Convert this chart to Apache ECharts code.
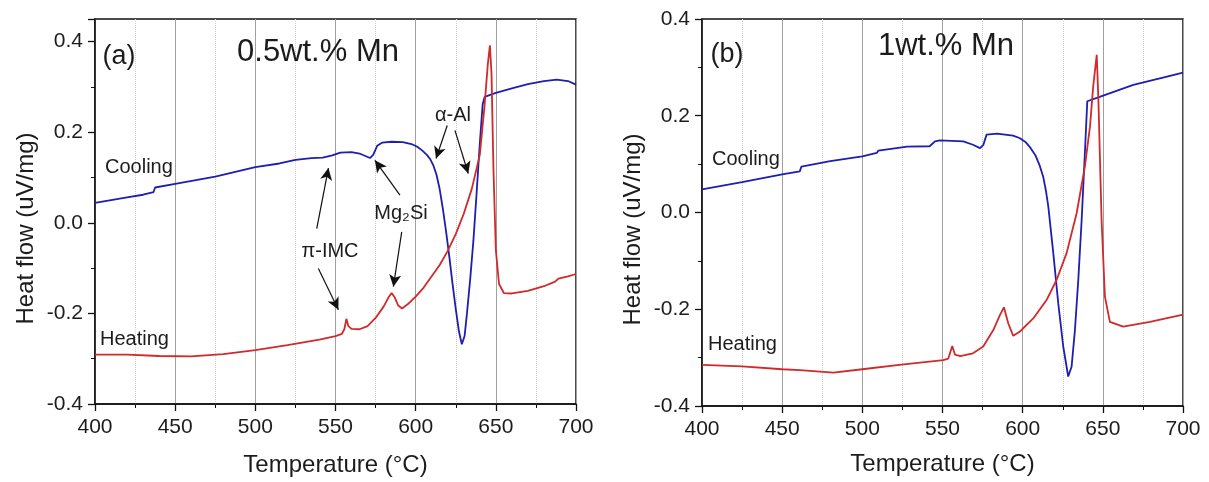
<!DOCTYPE html>
<html><head><meta charset="utf-8">
<script src="https://cdn.jsdelivr.net/npm/echarts@6/dist/echarts.min.js"></script>
<style>html,body{margin:0;padding:0;background:#fff}#c{width:1209px;height:482px}</style>
</head><body><div id="c"></div>
<script>
// ---------- DATA ----------
const xTickLabels = [400, 450, 500, 550, 600, 650, 700];

// Panel (a) 0.5wt.% Mn — cooling
const aCoolT = [400,410,420,430,436.5,437.5,450,475,500,515,525,535,542,548,553,560,565,569,571.5,573.5,576,579,585,592,598,601,604,607,609,611,613,615,617,619,621,623,625,627,628.8,630.5,632,634,636,638,640,641.8,643,650,660,670,680,688,695,700];
const aCoolV = [0.044,0.050,0.056,0.062,0.068,0.078,0.086,0.102,0.123,0.131,0.139,0.143,0.144,0.149,0.155,0.156,0.153,0.147,0.143,0.150,0.170,0.177,0.179,0.178,0.173,0.168,0.160,0.150,0.141,0.127,0.106,0.074,0.030,-0.020,-0.075,-0.135,-0.190,-0.240,-0.268,-0.250,-0.200,-0.125,-0.040,0.065,0.175,0.262,0.278,0.287,0.297,0.306,0.313,0.316,0.313,0.305];
// Panel (a) — heating
const aHeatT = [400,420,440,460,480,500,520,540,550,554,555.5,556.8,558,560,565,570,575,580,583,585,587,589,591.5,595,600,605,610,615,620,625,630,635,640,643,645,646.3,647.3,648.5,650,652,655,660,670,680,687,689,695,700];
const aHeatV = [-0.291,-0.291,-0.294,-0.295,-0.290,-0.281,-0.270,-0.258,-0.250,-0.245,-0.235,-0.212,-0.228,-0.234,-0.235,-0.228,-0.210,-0.185,-0.165,-0.155,-0.165,-0.182,-0.189,-0.180,-0.163,-0.143,-0.118,-0.093,-0.062,-0.025,0.020,0.075,0.150,0.260,0.350,0.392,0.330,0.120,-0.060,-0.135,-0.155,-0.156,-0.150,-0.140,-0.130,-0.123,-0.118,-0.113];

// Panel (b) 1wt.% Mn — cooling
const bCoolT = [400,425,450,461,462,480,500,509,510,528,542,545.3,548.4,563,569,573.4,575.5,577.5,584,594,598,602,605,608,610.5,612.8,614.5,616,619.1,622.2,625.3,628.4,630.5,632.6,634.7,636.8,638.8,640.3,648,669,690,700];
const bCoolV = [0.048,0.063,0.079,0.085,0.095,0.106,0.116,0.123,0.128,0.136,0.137,0.147,0.149,0.147,0.140,0.133,0.140,0.161,0.163,0.159,0.154,0.145,0.133,0.118,0.098,0.074,0.045,0.012,-0.084,-0.188,-0.277,-0.339,-0.319,-0.243,-0.139,-0.015,0.123,0.230,0.239,0.264,0.281,0.289];
// Panel (b) — heating
const bHeatT = [400,425,450,461,482,500,523,550.5,553.6,556.1,557.8,561,569,575.4,581.7,585.8,588.3,591,594.1,598.3,606.6,614.9,621.2,627.4,633.7,638.8,642,644,646.2,647.3,649.2,651.3,654.4,662.7,679.4,700];
const bHeatV = [-0.315,-0.318,-0.324,-0.326,-0.331,-0.324,-0.315,-0.305,-0.302,-0.276,-0.294,-0.297,-0.291,-0.277,-0.243,-0.212,-0.196,-0.229,-0.255,-0.246,-0.219,-0.181,-0.139,-0.084,-0.001,0.095,0.178,0.261,0.326,0.226,-0.015,-0.174,-0.226,-0.236,-0.226,-0.211];

// Annotation arrows in panel (a): [fromT, fromV, toT, toV]
const arrowsA = [
  [538.3, -0.013, 545.6, 0.121],
  [539.3, -0.101, 551.8, -0.192],
  [590.2, 0.061, 574.6, 0.138],
  [591.3, -0.020, 586.1, -0.141],
  [619.7, 0.215, 612.7, 0.142],
  [624.5, 0.204, 632.8, 0.109]
];

// ---------- CHART ----------
const FONT = 'Liberation Sans, Arial, sans-serif';
const TXT = '#1c1c1c';
const BLUE = '#1e1eb0';
const RED = '#d02a2a';
const zip = (a, b) => a.map((v, i) => [v, b[i]]);

function xAxis(gi, gap) {
  return {
    type: 'value', gridIndex: gi, min: 400, max: 700, interval: 50,
    name: 'Temperature (°C)', nameLocation: 'middle', nameGap: gap,
    nameTextStyle: { fontSize: 24, color: TXT, fontFamily: FONT },
    axisLine: { onZero: false, lineStyle: { color: '#111', width: 1.5 } },
    axisTick: { show: true, inside: false, length: 7, lineStyle: { color: '#111', width: 1.3 } },
    minorTick: { show: true, splitNumber: 2, length: 4, lineStyle: { color: '#111', width: 1 } },
    splitLine: { show: true, lineStyle: { color: '#a0a0a0', width: 1 } },
    minorSplitLine: { show: true, lineStyle: { color: '#d0d0d0', width: 1, type: 'dotted' } },
    axisLabel: { fontSize: 21, color: TXT, fontFamily: FONT, margin: 13,
      formatter: v => (xTickLabels.indexOf(v) >= 0 ? String(v) : '') }
  };
}
function yAxis(gi, max) {
  return {
    type: 'value', gridIndex: gi, min: -0.4, max: max, interval: 0.2,
    name: 'Heat flow (uV/mg)', nameLocation: 'middle', nameGap: 57,
    nameTextStyle: { fontSize: 24, color: TXT, fontFamily: FONT, padding: [0, 34, 0, 0] },
    axisLine: { onZero: false, lineStyle: { color: '#111', width: 1.5 } },
    axisTick: { show: true, inside: false, length: 7, lineStyle: { color: '#111', width: 1.3 } },
    minorTick: { show: true, splitNumber: 2, length: 4, lineStyle: { color: '#111', width: 1 } },
    splitLine: { show: false },
    axisLabel: { fontSize: 21, color: TXT, fontFamily: FONT, margin: 12, showMaxLabel: max === 0.4,
      formatter: v => (Math.abs(v - Math.round(v * 5) / 5) < 1e-6 ? v.toFixed(1) : '') }
  };
}

const chart = echarts.init(document.getElementById('c'), null, { renderer: 'canvas' });
const lineBase = { type: 'line', showSymbol: false, symbol: 'none', smooth: false, animation: false, silent: true };

const option = {
  backgroundColor: '#fff',
  animation: false,
  grid: [
    { left: 95, right: 633, top: 19, bottom: 76, show: true, borderColor: '#111', borderWidth: 1.5, backgroundColor: 'transparent' },
    { left: 702, right: 26, top: 19, bottom: 76, show: true, borderColor: '#111', borderWidth: 1.5, backgroundColor: 'transparent' }
  ],
  xAxis: [xAxis(0, 49), xAxis(1, 46)],
  yAxis: [yAxis(0, 0.45), yAxis(1, 0.4)],
  series: [
    Object.assign({}, lineBase, { name: 'a-cooling', xAxisIndex: 0, yAxisIndex: 0, data: zip(aCoolT, aCoolV),
      lineStyle: { color: BLUE, width: 1.8 },
      markLine: {
        silent: true, animation: false, symbol: ['none', 'arrow'], symbolSize: [9, 12],
        lineStyle: { color: '#111', width: 1.2, type: 'solid' },
        label: { show: false },
        data: arrowsA.map(a => [{ coord: [a[0], a[1]] }, { coord: [a[2], a[3]] }])
      } }),
    Object.assign({}, lineBase, { name: 'a-heating', xAxisIndex: 0, yAxisIndex: 0, data: zip(aHeatT, aHeatV),
      lineStyle: { color: RED, width: 1.8 } }),
    Object.assign({}, lineBase, { name: 'b-cooling', xAxisIndex: 1, yAxisIndex: 1, data: zip(bCoolT, bCoolV),
      lineStyle: { color: BLUE, width: 1.8 } }),
    Object.assign({}, lineBase, { name: 'b-heating', xAxisIndex: 1, yAxisIndex: 1, data: zip(bHeatT, bHeatV),
      lineStyle: { color: RED, width: 1.8 } })
  ],
  graphic: [
    txt('(a)', 119, 57, 27, 'center'),
    txt('0.5wt.% Mn', 318, 52, 31, 'center'),
    txt('Cooling', 105, 167, 20, 'left'),
    txt('Heating', 100, 339, 20, 'left'),
    txt('π-IMC', 330, 251, 20, 'center'),
    txt('Mg₂Si', 401, 213, 20, 'center'),
    txt('α-Al', 453, 115, 20, 'center'),
    txt('(b)', 727, 55, 27, 'center'),
    txt('1wt.% Mn', 946, 46, 31, 'center'),
    txt('Cooling', 712, 159, 20, 'left'),
    txt('Heating', 708, 344, 20, 'left')
  ]
};
function txt(t, x, y, size, align) {
  return { type: 'text', x: x, y: y, silent: true, z: 50,
    style: { text: t, fill: TXT, font: size + 'px ' + FONT, fontSize: size, fontFamily: FONT,
      textAlign: align, textVerticalAlign: 'middle', align: align, verticalAlign: 'middle' } };
}
chart.setOption(option);
</script>
</body></html>
